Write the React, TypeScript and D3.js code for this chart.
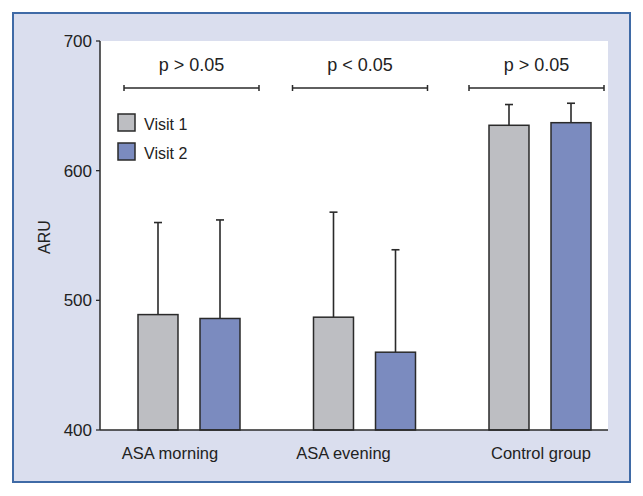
import React from "react";
import * as d3 from "d3";

const categories = ["ASA morning", "ASA evening", "Control group"];
const seriesNames = ["Visit 1", "Visit 2"];
const visit1 = [489, 487, 635];
const visit1Sd = [71, 81, 16];
const visit2 = [486, 460, 637];
const visit2Sd = [76, 79, 15];
const pLabels = ["p > 0.05", "p < 0.05", "p > 0.05"];
const yTicks = [400, 500, 600, 700];

const W = 643;
const H = 496;
const plot = { left: 100, right: 608, top: 41, bottom: 430 };
const colors = ["#bdbec2", "#7b8bbf"];
const FONT = "'Liberation Sans', Arial, Helvetica, sans-serif";
const labelOffset = [-19, -21, 1];
const bracketOffset = [2.5, -4.5, -3.5];

export default function App() {
  const y = d3.scaleLinear().domain([400, 700]).range([plot.bottom, plot.top]);
  const xg = d3.scalePoint<string>().domain(categories).range([189, 540]);
  const xs = d3.scaleBand<string>().domain(seriesNames).range([-51, 51]).paddingInner(0.355);
  const series = [
    { name: seriesNames[0], values: visit1, sd: visit1Sd, color: colors[0] },
    { name: seriesNames[1], values: visit2, sd: visit2Sd, color: colors[1] },
  ];
  const bw = xs.bandwidth();
  const stroke = "#2a2a2a";

  return (
    <svg
      width={W}
      height={H}
      style={{ position: "absolute", left: 0, top: 0, background: "#ffffff" }}
      fontFamily={FONT}
    >
      <rect x={13} y={13} width={617} height={469} fill="#dadeee" stroke="#3f6aa6" strokeWidth={2} />
      <rect x={plot.left} y={plot.top} width={plot.right - plot.left} height={plot.bottom - plot.top} fill="#ffffff" />

      {/* bars */}
      {series.map((s) =>
        categories.map((c, i) => {
          const x0 = (xg(c) as number) + (xs(s.name) as number) - 51 + 51;
          const top = y(s.values[i]);
          const et = y(s.values[i] + s.sd[i]);
          const cx = x0 + bw / 2;
          return (
            <g key={s.name + c}>
              <line x1={cx} x2={cx} y1={top} y2={et} stroke={stroke} strokeWidth={1.6} />
              <line x1={cx - 4} x2={cx + 4} y1={et} y2={et} stroke={stroke} strokeWidth={1.6} />
              <rect x={x0} y={top} width={bw} height={plot.bottom - top} fill={s.color} stroke={stroke} strokeWidth={1.5} />
            </g>
          );
        })
      )}

      {/* axes */}
      <line x1={plot.left} x2={plot.left} y1={plot.top} y2={plot.bottom} stroke={stroke} strokeWidth={1.5} />
      <line x1={plot.left} x2={plot.right} y1={plot.bottom} y2={plot.bottom} stroke={stroke} strokeWidth={1.5} />
      {yTicks.map((t) => (
        <g key={t}>
          <line x1={plot.left - 4} x2={plot.left} y1={y(t)} y2={y(t)} stroke={stroke} strokeWidth={1.3} />
          <text x={plot.left - 8} y={y(t) + 6} textAnchor="end" fontSize={17} fill="#222">
            {t}
          </text>
        </g>
      ))}
      <text transform={`translate(50,237) rotate(-90)`} textAnchor="middle" fontSize={16} fill="#222">
        ARU
      </text>

      {/* category labels */}
      {categories.map((c, i) => (
        <text key={c} x={(xg(c) as number) + labelOffset[i]} y={459} textAnchor="middle" fontSize={16.5} fill="#222">
          {c}
        </text>
      ))}

      {/* brackets */}
      {categories.map((c, i) => {
        const cx = (xg(c) as number) + bracketOffset[i];
        const half = 67.5;
        return (
          <g key={"b" + c}>
            <line x1={cx - half} x2={cx + half} y1={88} y2={88} stroke={stroke} strokeWidth={1.5} />
            <line x1={cx - half} x2={cx - half} y1={85} y2={91} stroke={stroke} strokeWidth={1.5} />
            <line x1={cx + half} x2={cx + half} y1={85} y2={91} stroke={stroke} strokeWidth={1.5} />
            <text x={cx} y={71} textAnchor="middle" fontSize={18} fill="#222">
              {pLabels[i]}
            </text>
          </g>
        );
      })}

      {/* legend */}
      {series.map((s, i) => (
        <g key={"l" + s.name} transform={`translate(118,${114 + i * 29})`}>
          <rect x={0} y={0} width={17} height={17} fill={s.color} stroke={stroke} strokeWidth={1.5} />
          <text x={26} y={16} fontSize={16} fill="#222">
            {s.name}
          </text>
        </g>
      ))}
    </svg>
  );
}
